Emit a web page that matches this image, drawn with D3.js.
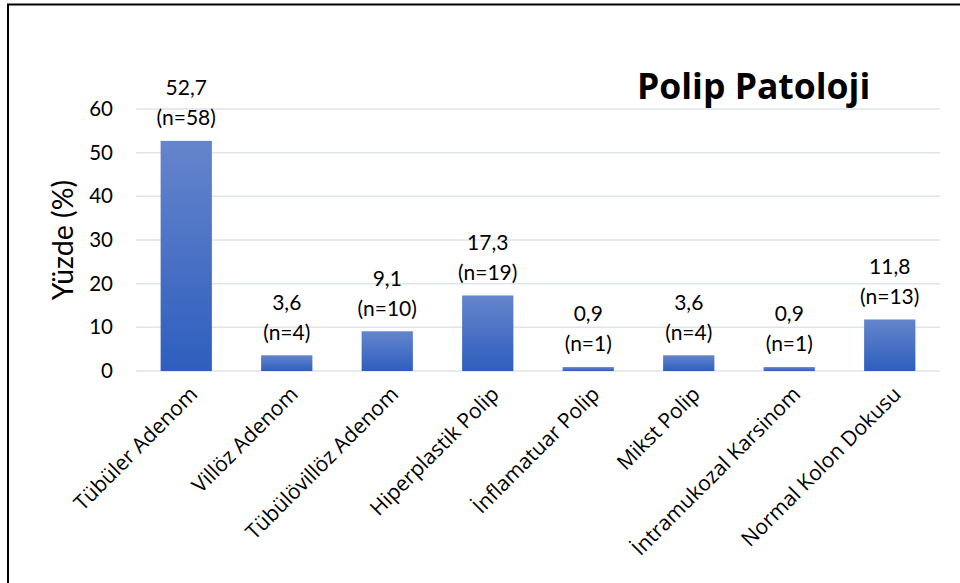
<!DOCTYPE html>
<html>
<head>
<meta charset="utf-8">
<script src="https://cdn.jsdelivr.net/npm/d3@7"></script>
<style>
  html, body { margin: 0; padding: 0; background: #fff; }
  svg { display: block; }
</style>
</head>
<body>
<svg id="chart" width="960" height="583"></svg>
<script>
// Polyp pathology distribution (percent of cases)
const categories = ["Tübüler Adenom", "Villöz Adenom", "Tübülövillöz Adenom", "Hiperplastik Polip",
                    "İnflamatuar Polip", "Mikst Polip", "İntramukozal Karsinom", "Normal Kolon Dokusu"];
const percents = [52.7, 3.6, 9.1, 17.3, 0.9, 3.6, 0.9, 11.8];
const counts = [58, 4, 10, 19, 1, 4, 1, 13];
const yTicks = [0, 10, 20, 30, 40, 50, 60];

const LATO = "Lato, sans-serif";
const OPEN = "'Open Sans', sans-serif";

const svg = d3.select("#chart");
const plot = { left: 136, right: 940, top: 109, bottom: 371 };

// gradient fill for the bars: lighter at the top, deeper blue at the base
const defs = svg.append("defs");
const grad = defs.append("linearGradient").attr("id", "barGrad")
  .attr("x1", 0).attr("y1", 0).attr("x2", 0).attr("y2", 1);
grad.append("stop").attr("offset", "0%").attr("stop-color", "#6585cc");
grad.append("stop").attr("offset", "100%").attr("stop-color", "#2e5ebe");

// outer frame
svg.append("rect").attr("x", 8).attr("y", 4.5).attr("width", 960).attr("height", 600)
  .attr("fill", "none").attr("stroke", "#000").attr("stroke-width", 2);

const x = d3.scaleBand().domain(categories).range([plot.left, plot.right]).paddingInner(0.49).paddingOuter(0.245);
const y = d3.scaleLinear().domain([0, 60]).range([plot.bottom, plot.top]);

// horizontal gridlines
svg.append("g").selectAll("line").data(yTicks).join("line")
  .attr("x1", plot.left).attr("x2", plot.right)
  .attr("y1", d => y(d)).attr("y2", d => y(d))
  .attr("stroke", "#dfe3ea").attr("stroke-width", 1.5);

// y axis tick labels
const yAxis = d3.axisLeft(y).tickValues(yTicks).tickSize(0).tickPadding(0).tickFormat(d3.format("d"));
const gy = svg.append("g").attr("transform", `translate(${plot.left - 23},0)`).call(yAxis);
gy.select(".domain").remove();
gy.selectAll("text").style("font-size", "20.5px").style("font-family", LATO).attr("fill", "#000");

// y axis title
svg.append("text")
  .attr("transform", `translate(73,${(plot.top + plot.bottom) / 2}) rotate(-90)`)
  .attr("text-anchor", "middle").style("font-size", "28.5px").style("font-family", LATO)
  .text("Yüzde (%)");

// bars
svg.append("g").selectAll("rect").data(percents).join("rect")
  .attr("x", (d, i) => x(categories[i]))
  .attr("width", x.bandwidth())
  .attr("y", d => y(d))
  .attr("height", d => y(0) - y(d))
  .attr("fill", "url(#barGrad)");

// value labels: percent and count
const lbl = svg.append("g").selectAll("g").data(percents).join("g")
  .attr("transform", (d, i) => `translate(${x(categories[i]) + x.bandwidth() / 2},${y(d)})`)
  .style("font-family", LATO).style("font-size", "21px");
lbl.append("text").attr("text-anchor", "middle")
  .attr("y", -53).attr("dy", "0.35em").text(d => String(d).replace(".", ","));
lbl.append("text").attr("text-anchor", "middle")
  .attr("y", -23).attr("dy", "0.35em").text((d, i) => `(n=${counts[i]})`);

// rotated category labels
svg.append("g").selectAll("text").data(categories).join("text")
  .attr("transform", d => `translate(${x(d) + x.bandwidth() / 2 + 2},${plot.bottom + 14}) rotate(-45)`)
  .attr("text-anchor", "end").attr("dy", "0.71em")
  .style("font-size", "21px").style("font-family", OPEN).text(d => d);

// chart title
svg.append("text").attr("x", 637).attr("y", 99)
  .style("font-size", "35.5px").style("font-weight", "bold").style("font-family", OPEN)
  .text("Polip Patoloji");
</script>
</body>
</html>
